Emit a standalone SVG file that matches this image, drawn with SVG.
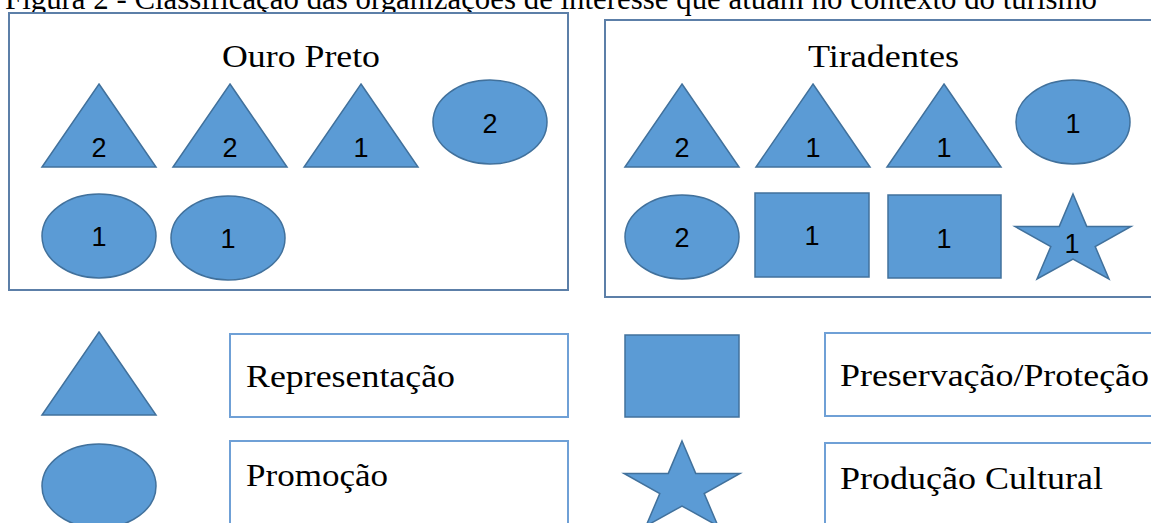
<svg xmlns="http://www.w3.org/2000/svg" width="1151" height="523" viewBox="0 0 1151 523">
<style>
.sh{fill:#5B9BD5;stroke:#41719C;stroke-width:1.5}
.frame{fill:#fff;stroke:#5C7FA8;stroke-width:2}
.lbox{fill:#fff;stroke:#6FA0D6;stroke-width:2}
.num{font-family:"Liberation Sans",Arial,sans-serif;font-size:27px;fill:#000;text-anchor:middle}
.ser{font-family:"Liberation Serif","Times New Roman",serif;font-size:32px;fill:#000}
</style>
<defs>
<polygon id="tri" points="0,-83 57,0 -57,0"/>
<polygon id="star" points="0,0 13.7,32.4 58,32.5 22.2,52.6 36,85 0,65 -36,85 -22.2,52.6 -58,32.5 -13.7,32.4"/>
</defs>
<rect width="1151" height="523" fill="#fff"/>
<text class="ser" x="5" y="9" font-size="30" textLength="1092" lengthAdjust="spacingAndGlyphs">Figura 2 - Classificação das organizações de interesse que atuam no contexto do turismo</text>

<g id="ouro-preto">
<rect class="frame" x="9" y="13" width="559" height="277"/>
<text class="ser" x="222" y="67" textLength="158" lengthAdjust="spacingAndGlyphs">Ouro Preto</text>
<g id="op-t1"><use href="#tri" class="sh" x="99" y="167"/><text class="num" x="99" y="157">2</text></g>
<g id="op-t2"><use href="#tri" class="sh" x="230" y="167"/><text class="num" x="230" y="157">2</text></g>
<g id="op-t3"><use href="#tri" class="sh" x="361" y="167"/><text class="num" x="361" y="157">1</text></g>
<g id="op-e1"><ellipse class="sh" cx="490" cy="122" rx="57" ry="42"/><text class="num" x="490" y="133">2</text></g>
<g id="op-e2"><ellipse class="sh" cx="99" cy="236" rx="57" ry="42"/><text class="num" x="99" y="246">1</text></g>
<g id="op-e3"><ellipse class="sh" cx="228" cy="238" rx="57" ry="42"/><text class="num" x="228" y="248">1</text></g>
</g>

<g id="tiradentes">
<rect class="frame" x="605" y="20" width="560" height="277"/>
<text class="ser" x="808" y="67" textLength="151" lengthAdjust="spacingAndGlyphs">Tiradentes</text>
<g id="ti-t1"><use href="#tri" class="sh" x="682" y="167"/><text class="num" x="682" y="157">2</text></g>
<g id="ti-t2"><use href="#tri" class="sh" x="813" y="167"/><text class="num" x="813" y="157">1</text></g>
<g id="ti-t3"><use href="#tri" class="sh" x="944" y="167"/><text class="num" x="944" y="157">1</text></g>
<g id="ti-e1"><ellipse class="sh" cx="1073" cy="122" rx="57" ry="42"/><text class="num" x="1073" y="133">1</text></g>
<g id="ti-e2"><ellipse class="sh" cx="682" cy="237" rx="57" ry="42"/><text class="num" x="682" y="247">2</text></g>
<g id="ti-s1"><rect class="sh" x="755" y="193" width="114" height="84"/><text class="num" x="812" y="245">1</text></g>
<g id="ti-s2"><rect class="sh" x="888" y="195" width="113" height="83"/><text class="num" x="944" y="248">1</text></g>
<g id="ti-star"><use href="#star" class="sh" x="1073" y="194"/><text class="num" x="1072" y="253">1</text></g>
</g>

<g id="legend-representacao">
<use href="#tri" class="sh" x="99" y="415"/>
<rect class="lbox" x="230" y="334" width="338" height="83"/>
<text class="ser" x="246" y="387" textLength="209" lengthAdjust="spacingAndGlyphs">Representação</text>
</g>
<g id="legend-promocao">
<ellipse class="sh" cx="99" cy="486" rx="57" ry="42"/>
<rect class="lbox" x="230" y="441" width="338" height="100"/>
<text class="ser" x="246" y="486" textLength="142" lengthAdjust="spacingAndGlyphs">Promoção</text>
</g>
<g id="legend-preservacao">
<rect class="sh" x="625" y="335" width="114" height="82"/>
<rect class="lbox" x="825" y="333" width="340" height="83"/>
<text class="ser" x="840" y="386" textLength="309" lengthAdjust="spacingAndGlyphs">Preservação/Proteção</text>
</g>
<g id="legend-producao">
<use href="#star" class="sh" x="682" y="441"/>
<rect class="lbox" x="825" y="443" width="340" height="100"/>
<text class="ser" x="840" y="489" textLength="263" lengthAdjust="spacingAndGlyphs">Produção Cultural</text>
</g>
<g id="connectors"/>
</svg>
